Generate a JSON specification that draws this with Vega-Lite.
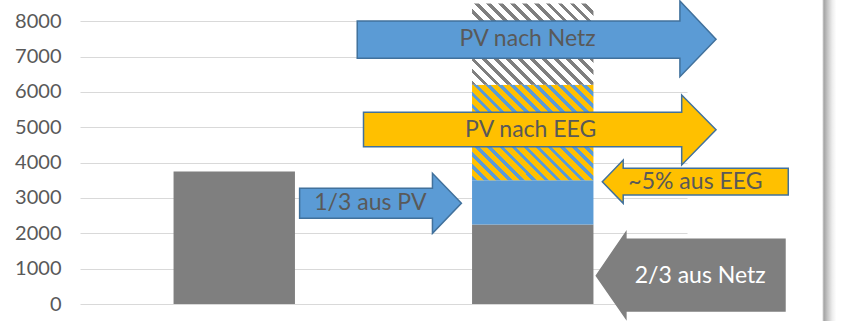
{
  "$schema": "https://vega.github.io/schema/vega-lite/v6.json",
  "width": 607,
  "height": 304,
  "autosize": {"type": "none"},
  "padding": {"left": 80, "top": 0, "right": 158, "bottom": 17},
  "background": "white",
  "config": {
    "view": {"stroke": null},
    "font": "Lato",
    "axisY": {
      "format": "d", "labelOverlap": false, "labelBound": false,
      "title": null, "domain": false, "ticks": false,
      "labelFontSize": 20, "labelColor": "#595959", "labelFont": "Lato",
      "labelPadding": 19, "gridColor": "#d9d9d9", "gridWidth": 1
    }
  },
  "datasets": {
    "bars": [
      {"slot": 0.5, "from": 0, "to": 3750, "part": "Netz", "hatch": false},
      {"slot": 1.5, "from": 0, "to": 2250, "part": "Netz", "hatch": false},
      {"slot": 1.5, "from": 2250, "to": 3500, "part": "PV", "hatch": false},
      {"slot": 1.5, "from": 3500, "to": 6200, "part": "EEG", "hatch": true},
      {"slot": 1.5, "from": 6200, "to": 8500, "part": "Netz", "hatch": true}
    ],
    "arrows": [
      {"arrow": "a1", "kind": "PV", "x": 0.912, "lo": 6951, "hi": 8006},
      {"arrow": "a1", "kind": "PV", "x": 1.993, "lo": 6951, "hi": 8006},
      {"arrow": "a1", "kind": "PV", "x": 1.993, "lo": 6430, "hi": 8572},
      {"arrow": "a1", "kind": "PV", "x": 2.114, "lo": 7488, "hi": 7488},
      {"arrow": "a2", "kind": "EEG", "x": 0.933, "lo": 4450, "hi": 5423},
      {"arrow": "a2", "kind": "EEG", "x": 1.999, "lo": 4450, "hi": 5423},
      {"arrow": "a2", "kind": "EEG", "x": 1.999, "lo": 3932, "hi": 5913},
      {"arrow": "a2", "kind": "EEG", "x": 2.114, "lo": 4930, "hi": 4930},
      {"arrow": "a3", "kind": "PV", "x": 0.719, "lo": 2424, "hi": 3273},
      {"arrow": "a3", "kind": "PV", "x": 1.164, "lo": 2424, "hi": 3273},
      {"arrow": "a3", "kind": "PV", "x": 1.164, "lo": 2000, "hi": 3698},
      {"arrow": "a3", "kind": "PV", "x": 1.261, "lo": 2849, "hi": 2849},
      {"arrow": "a4", "kind": "EEG", "x": 1.733, "lo": 3460, "hi": 3460},
      {"arrow": "a4", "kind": "EEG", "x": 1.803, "lo": 2849, "hi": 4074},
      {"arrow": "a4", "kind": "EEG", "x": 1.803, "lo": 3084, "hi": 3839},
      {"arrow": "a4", "kind": "EEG", "x": 2.356, "lo": 3084, "hi": 3839},
      {"arrow": "a5", "kind": "Netz", "x": 1.713, "lo": 801, "hi": 801},
      {"arrow": "a5", "kind": "Netz", "x": 1.812, "lo": -405, "hi": 2028},
      {"arrow": "a5", "kind": "Netz", "x": 1.812, "lo": -198, "hi": 1830},
      {"arrow": "a5", "kind": "Netz", "x": 2.345, "lo": -198, "hi": 1830}
    ],
    "labels": [
      {"label": "PV nach Netz", "kind": "PV", "x": 1.483, "y": 7488},
      {"label": "PV nach EEG", "kind": "EEG", "x": 1.493, "y": 4930},
      {"label": "1/3 aus PV", "kind": "PV", "x": 0.956, "y": 2857},
      {"label": "~5% aus EEG", "kind": "EEG", "x": 2.045, "y": 3460},
      {"label": "2/3 aus Netz", "kind": "Netz", "x": 2.061, "y": 800}
    ]
  },
  "layer": [
    {
      "data": {"name": "bars"},
      "transform": [{"filter": "!datum.hatch"}],
      "mark": {"type": "bar", "width": 121.4},
      "encoding": {
        "x": {"field": "slot", "type": "quantitative", "scale": {"domain": [0, 2], "nice": false, "zero": false}, "axis": null},
        "y": {"field": "to", "type": "quantitative", "scale": {"domain": [0, 8600], "nice": false}, "axis": {"values": [0, 1000, 2000, 3000, 4000, 5000, 6000, 7000, 8000]}},
        "y2": {"field": "from"},
        "color": {"field": "part", "type": "nominal", "scale": {"domain": ["Netz", "PV", "EEG"], "range": ["#7f7f7f", "#5b9bd5", "#ffc000"]}, "legend": null}
      }
    },
    {
      "data": {"name": "bars"},
      "transform": [{"filter": "datum.hatch && datum.part === 'EEG'"}],
      "mark": {
        "type": "bar", "width": 121.4,
        "fill": {
          "gradient": "linear", "x1": 0, "y1": 1, "x2": 1.104, "y2": 0.1324,
          "stops": [
            {"offset": 0, "color": "#5b9bd5"}, {"offset": 0.0222, "color": "#5b9bd5"}, {"offset": 0.0222, "color": "#ffc000"}, {"offset": 0.0556, "color": "#ffc000"},
            {"offset": 0.0556, "color": "#5b9bd5"}, {"offset": 0.0778, "color": "#5b9bd5"}, {"offset": 0.0778, "color": "#ffc000"}, {"offset": 0.1111, "color": "#ffc000"},
            {"offset": 0.1111, "color": "#5b9bd5"}, {"offset": 0.1333, "color": "#5b9bd5"}, {"offset": 0.1333, "color": "#ffc000"}, {"offset": 0.1667, "color": "#ffc000"},
            {"offset": 0.1667, "color": "#5b9bd5"}, {"offset": 0.1889, "color": "#5b9bd5"}, {"offset": 0.1889, "color": "#ffc000"}, {"offset": 0.2222, "color": "#ffc000"},
            {"offset": 0.2222, "color": "#5b9bd5"}, {"offset": 0.2444, "color": "#5b9bd5"}, {"offset": 0.2444, "color": "#ffc000"}, {"offset": 0.2778, "color": "#ffc000"},
            {"offset": 0.2778, "color": "#5b9bd5"}, {"offset": 0.3, "color": "#5b9bd5"}, {"offset": 0.3, "color": "#ffc000"}, {"offset": 0.3333, "color": "#ffc000"},
            {"offset": 0.3333, "color": "#5b9bd5"}, {"offset": 0.3556, "color": "#5b9bd5"}, {"offset": 0.3556, "color": "#ffc000"}, {"offset": 0.3889, "color": "#ffc000"},
            {"offset": 0.3889, "color": "#5b9bd5"}, {"offset": 0.4111, "color": "#5b9bd5"}, {"offset": 0.4111, "color": "#ffc000"}, {"offset": 0.4444, "color": "#ffc000"},
            {"offset": 0.4444, "color": "#5b9bd5"}, {"offset": 0.4667, "color": "#5b9bd5"}, {"offset": 0.4667, "color": "#ffc000"}, {"offset": 0.5, "color": "#ffc000"},
            {"offset": 0.5, "color": "#5b9bd5"}, {"offset": 0.5222, "color": "#5b9bd5"}, {"offset": 0.5222, "color": "#ffc000"}, {"offset": 0.5556, "color": "#ffc000"},
            {"offset": 0.5556, "color": "#5b9bd5"}, {"offset": 0.5778, "color": "#5b9bd5"}, {"offset": 0.5778, "color": "#ffc000"}, {"offset": 0.6111, "color": "#ffc000"},
            {"offset": 0.6111, "color": "#5b9bd5"}, {"offset": 0.6333, "color": "#5b9bd5"}, {"offset": 0.6333, "color": "#ffc000"}, {"offset": 0.6667, "color": "#ffc000"},
            {"offset": 0.6667, "color": "#5b9bd5"}, {"offset": 0.6889, "color": "#5b9bd5"}, {"offset": 0.6889, "color": "#ffc000"}, {"offset": 0.7222, "color": "#ffc000"},
            {"offset": 0.7222, "color": "#5b9bd5"}, {"offset": 0.7444, "color": "#5b9bd5"}, {"offset": 0.7444, "color": "#ffc000"}, {"offset": 0.7778, "color": "#ffc000"},
            {"offset": 0.7778, "color": "#5b9bd5"}, {"offset": 0.8, "color": "#5b9bd5"}, {"offset": 0.8, "color": "#ffc000"}, {"offset": 0.8333, "color": "#ffc000"},
            {"offset": 0.8333, "color": "#5b9bd5"}, {"offset": 0.8556, "color": "#5b9bd5"}, {"offset": 0.8556, "color": "#ffc000"}, {"offset": 0.8889, "color": "#ffc000"},
            {"offset": 0.8889, "color": "#5b9bd5"}, {"offset": 0.9111, "color": "#5b9bd5"}, {"offset": 0.9111, "color": "#ffc000"}, {"offset": 0.9444, "color": "#ffc000"},
            {"offset": 0.9444, "color": "#5b9bd5"}, {"offset": 0.9667, "color": "#5b9bd5"}, {"offset": 0.9667, "color": "#ffc000"}, {"offset": 1, "color": "#ffc000"}
          ]
        }
      },
      "encoding": {
        "x": {"field": "slot", "type": "quantitative", "scale": {"domain": [0, 2], "nice": false, "zero": false}, "axis": null},
        "y": {"field": "to", "type": "quantitative", "scale": {"domain": [0, 8600], "nice": false}, "axis": {"values": [0, 1000, 2000, 3000, 4000, 5000, 6000, 7000, 8000]}},
        "y2": {"field": "from"}
      }
    },
    {
      "data": {"name": "bars"},
      "transform": [{"filter": "datum.hatch && datum.part === 'Netz'"}],
      "mark": {
        "type": "bar", "width": 121.4,
        "fill": {
          "gradient": "linear", "x1": 0, "y1": 1, "x2": 1.1527, "y2": 0.228,
          "stops": [
            {"offset": 0, "color": "#7f7f7f"}, {"offset": 0.0235, "color": "#7f7f7f"}, {"offset": 0.0235, "color": "#ffffff"}, {"offset": 0.0588, "color": "#ffffff"},
            {"offset": 0.0588, "color": "#7f7f7f"}, {"offset": 0.0824, "color": "#7f7f7f"}, {"offset": 0.0824, "color": "#ffffff"}, {"offset": 0.1176, "color": "#ffffff"},
            {"offset": 0.1176, "color": "#7f7f7f"}, {"offset": 0.1412, "color": "#7f7f7f"}, {"offset": 0.1412, "color": "#ffffff"}, {"offset": 0.1765, "color": "#ffffff"},
            {"offset": 0.1765, "color": "#7f7f7f"}, {"offset": 0.2, "color": "#7f7f7f"}, {"offset": 0.2, "color": "#ffffff"}, {"offset": 0.2353, "color": "#ffffff"},
            {"offset": 0.2353, "color": "#7f7f7f"}, {"offset": 0.2588, "color": "#7f7f7f"}, {"offset": 0.2588, "color": "#ffffff"}, {"offset": 0.2941, "color": "#ffffff"},
            {"offset": 0.2941, "color": "#7f7f7f"}, {"offset": 0.3176, "color": "#7f7f7f"}, {"offset": 0.3176, "color": "#ffffff"}, {"offset": 0.3529, "color": "#ffffff"},
            {"offset": 0.3529, "color": "#7f7f7f"}, {"offset": 0.3765, "color": "#7f7f7f"}, {"offset": 0.3765, "color": "#ffffff"}, {"offset": 0.4118, "color": "#ffffff"},
            {"offset": 0.4118, "color": "#7f7f7f"}, {"offset": 0.4353, "color": "#7f7f7f"}, {"offset": 0.4353, "color": "#ffffff"}, {"offset": 0.4706, "color": "#ffffff"},
            {"offset": 0.4706, "color": "#7f7f7f"}, {"offset": 0.4941, "color": "#7f7f7f"}, {"offset": 0.4941, "color": "#ffffff"}, {"offset": 0.5294, "color": "#ffffff"},
            {"offset": 0.5294, "color": "#7f7f7f"}, {"offset": 0.5529, "color": "#7f7f7f"}, {"offset": 0.5529, "color": "#ffffff"}, {"offset": 0.5882, "color": "#ffffff"},
            {"offset": 0.5882, "color": "#7f7f7f"}, {"offset": 0.6118, "color": "#7f7f7f"}, {"offset": 0.6118, "color": "#ffffff"}, {"offset": 0.6471, "color": "#ffffff"},
            {"offset": 0.6471, "color": "#7f7f7f"}, {"offset": 0.6706, "color": "#7f7f7f"}, {"offset": 0.6706, "color": "#ffffff"}, {"offset": 0.7059, "color": "#ffffff"},
            {"offset": 0.7059, "color": "#7f7f7f"}, {"offset": 0.7294, "color": "#7f7f7f"}, {"offset": 0.7294, "color": "#ffffff"}, {"offset": 0.7647, "color": "#ffffff"},
            {"offset": 0.7647, "color": "#7f7f7f"}, {"offset": 0.7882, "color": "#7f7f7f"}, {"offset": 0.7882, "color": "#ffffff"}, {"offset": 0.8235, "color": "#ffffff"},
            {"offset": 0.8235, "color": "#7f7f7f"}, {"offset": 0.8471, "color": "#7f7f7f"}, {"offset": 0.8471, "color": "#ffffff"}, {"offset": 0.8824, "color": "#ffffff"},
            {"offset": 0.8824, "color": "#7f7f7f"}, {"offset": 0.9059, "color": "#7f7f7f"}, {"offset": 0.9059, "color": "#ffffff"}, {"offset": 0.9412, "color": "#ffffff"},
            {"offset": 0.9412, "color": "#7f7f7f"}, {"offset": 0.9647, "color": "#7f7f7f"}, {"offset": 0.9647, "color": "#ffffff"}, {"offset": 1, "color": "#ffffff"}
          ]
        }
      },
      "encoding": {
        "x": {"field": "slot", "type": "quantitative", "scale": {"domain": [0, 2], "nice": false, "zero": false}, "axis": null},
        "y": {"field": "to", "type": "quantitative", "scale": {"domain": [0, 8600], "nice": false}, "axis": {"values": [0, 1000, 2000, 3000, 4000, 5000, 6000, 7000, 8000]}},
        "y2": {"field": "from"}
      }
    },
    {
      "data": {"name": "arrows"},
      "mark": {"type": "area", "interpolate": "linear", "strokeWidth": 1.5, "opacity": 1},
      "encoding": {
        "x": {"field": "x", "type": "quantitative", "scale": {"domain": [0, 2], "nice": false, "zero": false}, "axis": null},
        "y": {"field": "hi", "type": "quantitative", "scale": {"domain": [0, 8600], "nice": false}, "axis": {"values": [0, 1000, 2000, 3000, 4000, 5000, 6000, 7000, 8000]}},
        "y2": {"field": "lo"},
        "detail": {"field": "arrow"},
        "color": {"field": "kind", "type": "nominal", "scale": {"domain": ["Netz", "PV", "EEG"], "range": ["#7f7f7f", "#5b9bd5", "#ffc000"]}, "legend": null},
        "stroke": {"condition": {"test": "datum.kind === 'Netz'", "value": "#7f7f7f"}, "value": "#41719c"}
      }
    },
    {
      "data": {"name": "labels"},
      "mark": {"type": "text", "font": "Lato", "fontSize": 23, "align": "center", "baseline": "middle"},
      "encoding": {
        "x": {"field": "x", "type": "quantitative", "scale": {"domain": [0, 2], "nice": false, "zero": false}, "axis": null},
        "y": {"field": "y", "type": "quantitative", "scale": {"domain": [0, 8600], "nice": false}, "axis": {"values": [0, 1000, 2000, 3000, 4000, 5000, 6000, 7000, 8000]}},
        "text": {"field": "label"},
        "color": {"condition": {"test": "datum.kind === 'Netz'", "value": "#ffffff"}, "value": "#595959"}
      }
    },
    {
      "data": {"values": [{}]},
      "mark": {
        "type": "rect",
        "fill": {
          "gradient": "linear", "x1": 0, "y1": 0, "x2": 1, "y2": 0,
          "stops": [
            {"offset": 0, "color": "#d0d0d0"},
            {"offset": 0.12, "color": "#a6a6a6"},
            {"offset": 0.35, "color": "#c4c4c4"},
            {"offset": 0.7, "color": "#ededed"},
            {"offset": 1, "color": "#ffffff"}
          ]
        }
      },
      "encoding": {
        "x": {"datum": 2.471, "type": "quantitative", "scale": {"domain": [0, 2], "nice": false, "zero": false}, "axis": null},
        "x2": {"datum": 2.517},
        "y": {"datum": 8700, "type": "quantitative", "scale": {"domain": [0, 8600], "nice": false}, "axis": {"values": [0, 1000, 2000, 3000, 4000, 5000, 6000, 7000, 8000]}},
        "y2": {"datum": -700}
      }
    }
  ]
}
